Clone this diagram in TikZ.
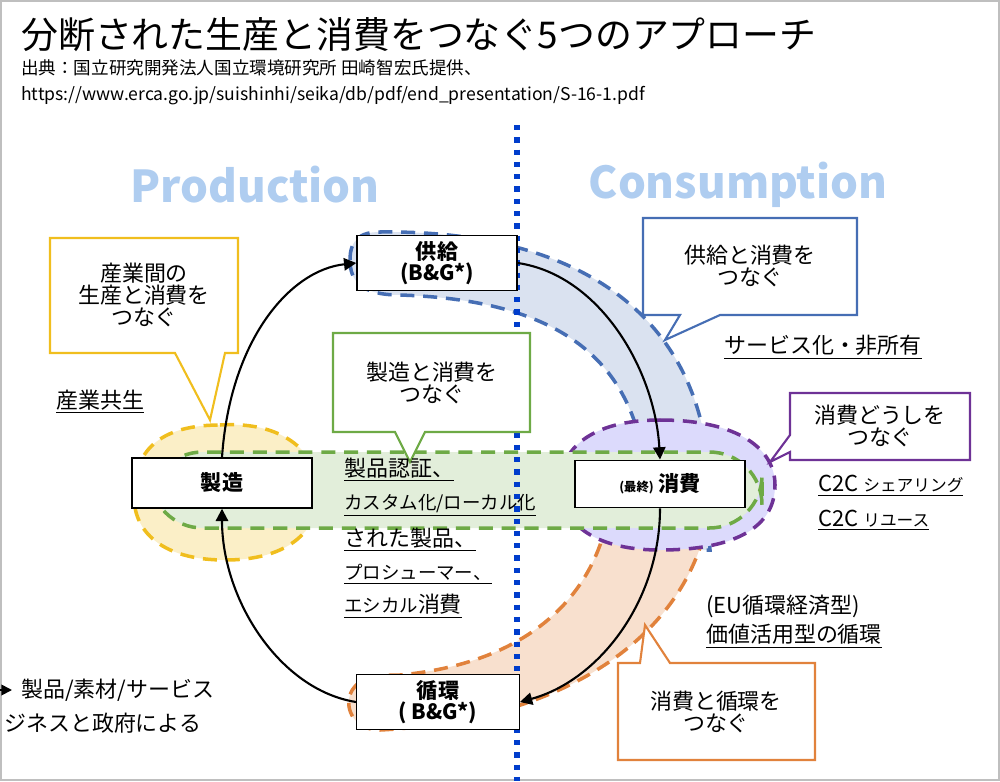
\documentclass[tikz,border=0pt]{standalone}
\usepackage{fontspec}
\setmainfont{Noto Sans CJK JP}
\usetikzlibrary{arrows.meta}
\definecolor{ylw}{RGB}{240,190,30}
\definecolor{grn}{RGB}{110,170,70}
\definecolor{blu}{RGB}{70,110,180}
\definecolor{pur}{RGB}{110,50,150}
\definecolor{org}{RGB}{225,130,60}
\definecolor{prd}{RGB}{175,205,240}
\newcommand{\fs}[1]{\fontsize{#1}{#1}\selectfont}
\tikzset{x=0.02cm,y=-0.02cm,
 box/.style={draw=black,fill=white,line width=0.8pt,minimum width=3.2cm,minimum height=1.1cm,font=\fs{12}\bfseries,align=center},
 cyc/.style={-{Triangle[length=7pt,width=7pt]},line width=1.2pt},
 dsh/.style={line width=2pt,dash pattern=on 8pt off 5pt},
 call/.style={fill=white,line width=1.2pt},
 ct/.style={font=\fs{12.5},align=center},
 ul/.style={font=\fs{12.5},anchor=west}}
\newcommand{\ulx}[1]{\underline{#1}}
\begin{document}
\begin{tikzpicture}
\useasboundingbox (0,0) rectangle (1000,781);
\clip (0,0) rectangle (1000,781);
\draw[gray!50,line width=1pt] (1,1) rectangle (999,780);
\node[anchor=west,font=\fs{21}] (t) at (15,35) {分断された生産と消費をつなぐ5つのアプローチ};
\node[anchor=west,font=\fs{10}] (s) at (15,68) {出典：国立研究開発法人国立環境研究所 田崎智宏氏提供、};
\node[anchor=west,font=\fs{10}] (u) at (15,96) {https://www.erca.go.jp/suishinhi/seika/db/pdf/end\_presentation/S-16-1.pdf};
\node[font=\fs{25}\bfseries,text=prd] (p) at (255,185) {Production};
\node[font=\fs{25}\bfseries,text=prd] (c) at (738,185) {Consumption};
% blobs
\draw[ylw,dsh,fill=ylw!25] (220,425) .. controls (300,420) and (320,470) .. (320,490) .. controls (320,520) and (300,560) .. (225,560) .. controls (150,560) and (130,520) .. (135,490) .. controls (135,460) and (150,425) .. (220,425);
\draw[blu,dsh,fill=blu!20] (350,260) .. controls (350,240) and (360,232) .. (380,232) .. controls (560,230) and (680,300) .. (705,440) -- (710,550) -- (620,550) -- (640,440) .. controls (620,360) and (560,300) .. (400,295) .. controls (360,295) and (350,280) .. (350,260);
\draw[org,dsh,fill=org!25] (610,440) .. controls (660,430) and (700,440) .. (712,470) .. controls (715,620) and (580,720) .. (380,730) .. controls (355,730) and (345,710) .. (350,695) .. controls (355,680) and (370,675) .. (400,675) .. controls (560,660) and (625,560) .. (610,440);
\draw[pur,dsh,fill=pur!20!blue!15] (660,420) .. controls (740,420) and (775,450) .. (775,485) .. controls (775,530) and (730,550) .. (660,550) .. controls (590,550) and (560,520) .. (560,485) .. controls (560,450) and (590,420) .. (660,420);
\draw[grn,dsh,fill=grn!20,rounded corners=30pt] (150,452) rectangle (762,528);
% dotted line
\draw[blue!70!cyan!80!black,line width=3pt,dash pattern=on 3pt off 4pt] (517,125) -- (517,781);
% nodes
\node[box,minimum width=3.2cm] (kyo) at (437,263) {供給\\(B\&G*)};
\node[box,minimum width=3.6cm,minimum height=1cm] (sei) at (222,483) {製造};
\node[box,minimum width=3.4cm,minimum height=0.95cm] (sho) at (660,484) {{\fs{7}(最終)} 消費};
\node[box,minimum width=3.25cm] (jun) at (438,702) {循環\\( B\&G*)};
\draw[cyc] (kyo.east) .. controls (600,275) and (655,370) .. (sho.north);
\draw[cyc] (sho.south) .. controls (660,600) and (600,680) .. (jun.east);
\draw[cyc] (jun.west) .. controls (280,690) and (222,600) .. (sei.south);
\draw[cyc] (sei.north) .. controls (230,340) and (290,270) .. (kyo.west);
% callouts
\draw[ylw,call] (50,238) -- (238,238) -- (238,353) -- (225,353) -- (210,420) -- (175,353) -- (50,353) -- cycle;
\node[ct] (y1) at (144,295) {産業間の\\生産と消費を\\つなぐ};
\node[ul] (y2) at (50,402) {\ulx{産業共生}};
\draw[grn,call] (333,333) -- (530,333) -- (530,432) -- (425,432) -- (410,462) -- (395,432) -- (333,432) -- cycle;
\node[ct] (g1) at (432,383) {製造と消費を\\つなぐ};
\draw[blu,call] (643,218) -- (857,218) -- (857,315) -- (720,315) -- (665,340) -- (680,315) -- (643,315) -- cycle;
\node[ct] (b1) at (750,266) {供給と消費を\\つなぐ};
\node[ul] (b2) at (718,347) {\ulx{サービス化・非所有}};
\draw[pur,call] (790,393) -- (970,393) -- (970,460) -- (790,460) -- (790,452) -- (770,462) -- (790,435) -- cycle;
\node[ct] (p1) at (880,426) {消費どうしを\\つなぐ};
\node[ul] (p2) at (812,486) {\ulx{\textit{C2C} {\fs{9.5}シェアリング}}};
\node[ul] (p3) at (812,520) {\ulx{\textit{C2C} {\fs{9.5}リユース}}};
\node[ul] (e1) at (700,606) {(\textit{EU}循環経済型)};
\node[ul] (e2) at (700,636) {\ulx{価値活用型の循環}};
\draw[org,call] (618,663) -- (640,663) -- (645,625) -- (670,663) -- (815,663) -- (815,760) -- (618,760) -- cycle;
\node[ct] (o1) at (716,712) {消費と循環を\\つなぐ};
% central text
\node[ul] (c1) at (338,470) {\ulx{製品認証、}};
\node[ul] (c2) at (338,505) {\ulx{{\fs{10.5}カスタム化/ローカル化}}};
\node[ul] (c3) at (338,540) {\ulx{された製品、}};
\node[ul] (c4) at (338,574) {\ulx{{\fs{10.5}プロシューマー、}}};
\node[ul] (c5) at (338,606) {\ulx{{\fs{10.5}エシカル}消費}};
% bottom-left legend
\coordinate (lt) at (-10,690);
\coordinate (lh) at (12,690);
\draw[-{Triangle[length=6pt,width=6pt]},line width=1pt] (lt) -- (lh);
\node[ul] (l1) at (15,690) {製品/素材/サービス};
\node[anchor=west,font=\fs{12.5}] (l2) at (-2,723) {ジネスと政府による};
\end{tikzpicture}
\end{document}
